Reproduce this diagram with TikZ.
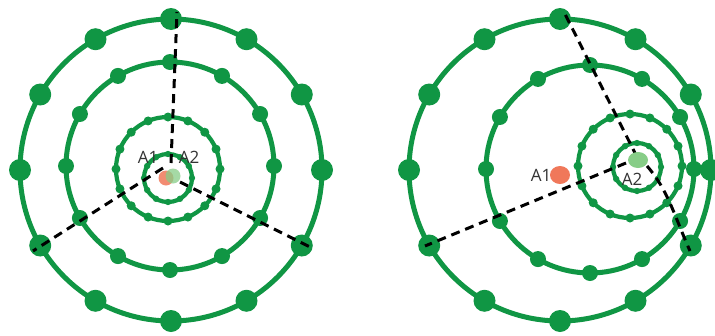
\documentclass[tikz,border=0pt]{standalone}
\usepackage{fontspec}
\setmainfont{Open Sans}
\usetikzlibrary{calc}
\definecolor{ringgreen}{RGB}{16,150,68}
\definecolor{aone}{RGB}{240,120,90}
\definecolor{atwo}{RGB}{135,205,135}
\tikzset{
  ring/.style={draw=ringgreen,line width=5pt},
  thinring/.style={draw=ringgreen,line width=4.2pt},
  dashline/.style={black,line width=3pt,dash pattern=on 9pt off 6pt},
  lbl/.style={text=black!80,font=\fontsize{17}{17}\selectfont,inner sep=0pt}
}
\newcommand{\atomrings}[4]{% #1 outer, #2 second, #3 third, #4 inner centres
  \draw[ring] (#1) circle (151pt);
  \foreach \a in {0,30,...,330} \fill[ringgreen] ($(#1)+(\a:151pt)$) circle (11pt);
  \draw[ring] (#2) circle (104pt);
  \foreach \a in {0,30,...,330} \fill[ringgreen] ($(#2)+(\a:104pt)$) circle (8pt);
  \draw[thinring] (#3) circle (52pt);
  \foreach \a in {0,22.5,...,340} \fill[ringgreen] ($(#3)+(\a:52pt)$) circle (4.5pt);
  \draw[thinring] (#4) circle (24pt);
  \foreach \a in {0,30,...,330} \fill[ringgreen] ($(#4)+(\a:24pt)$) circle (3.2pt);
}
\begin{document}
\begin{tikzpicture}[x=1pt,y=-1pt]
\fill[white] (0,0) rectangle (715,335);
\useasboundingbox (0,0) rectangle (715,335);
% left atom
\coordinate (LO) at (171,170);
\coordinate (LS) at (170,166);
\coordinate (LT) at (168,169);
\coordinate (LI) at (168,178);
\atomrings{LO}{LS}{LT}{LI}
\coordinate (Ltop) at (177,12);
\coordinate (Lc1) at (171,163);
\coordinate (Lll) at (33,251);
\coordinate (Lc2) at (163,168);
\coordinate (Llr) at (312,248);
\coordinate (Lc3) at (180,182);
\draw[dashline] (Lc1) -- (Ltop);
\draw[dashline] (Lc2) -- (Lll);
\draw[dashline] (Lc3) -- (Llr);
\fill[aone,opacity=0.85] (166,178) circle (7.5pt);
\fill[atwo,opacity=0.75] (173,176) circle (7.5pt);
\node[lbl] (LA1) at (148,157) {A1};
\node[lbl] (LA2) at (189,157) {A2};
% right atom
\coordinate (RO) at (560,170);
\coordinate (RS) at (590,169);
\coordinate (RT) at (630,166);
\coordinate (RI) at (637,167);
\atomrings{RO}{RS}{RT}{RI}
\coordinate (Rtop) at (564,12);
\coordinate (Rc1) at (637,157);
\coordinate (Rll) at (425,246);
\coordinate (Rc2) at (626,163);
\coordinate (Rc3) at (647,166);
\coordinate (Rlr) at (690,251);
\draw[dashline] (Rc1) -- (Rtop);
\draw[dashline] (Rc2) -- (Rll);
\draw[dashline] (Rc3) .. controls (668,190) and (674,215) .. (Rlr);
\fill[aone] (560,175) ellipse (10pt and 9pt);
\fill[atwo] (638,160) ellipse (10pt and 8pt);
\node[lbl] (RA1) at (541,175) {A1};
\node[lbl] (RA2) at (632,179) {A2};
\end{tikzpicture}
\end{document}
